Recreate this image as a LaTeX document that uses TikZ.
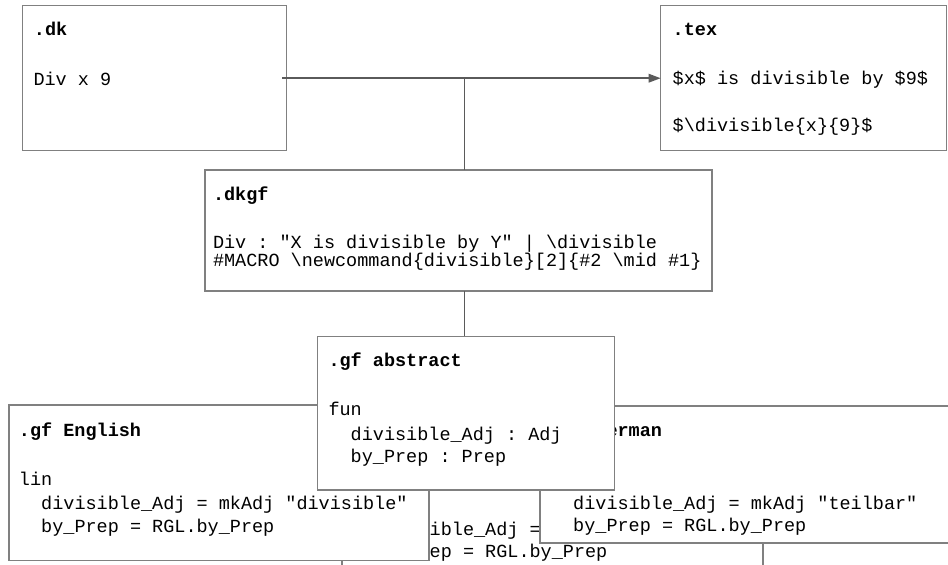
\documentclass[tikz,border=0pt]{standalone}
\usepackage{fontspec}
\setmonofont{Liberation Mono}
\usetikzlibrary{arrows.meta}
\definecolor{boxgray}{HTML}{808080}
\definecolor{linegray}{HTML}{5A5A5A}
\newcommand{\ind}{\hphantom{xx}}
\tikzset{
  box/.style={draw=boxgray, line width=1.2pt, fill=white, inner sep=0pt, outer sep=0pt, anchor=north west},
  txt/.style={anchor=base west, inner sep=0pt, outer sep=0pt, text=black, font=\fontsize{18.5}{24}\selectfont\ttfamily},
  ttl/.style={txt, font=\fontsize{18.5}{24}\selectfont\ttfamily\bfseries},
  conn/.style={draw=linegray, line width=1.6pt}
}
\begin{document}
\begin{tikzpicture}[x=1pt,y=-1pt]
\useasboundingbox (0,0) rectangle (948,565);
\clip (0,0) rectangle (948,565);
\fill[white] (0,0) rectangle (948,565);

% top boxes
\node[box, minimum width=264pt, minimum height=145pt] (dk) at (22.7,5.7) {};
\node[ttl] (dkT) at (34,35.5) {.dk};
\node[txt] (dkA) at (33.5,85) {Div x 9};

\node[box, minimum width=286pt, minimum height=145pt] (tex) at (660.7,5.7) {};
\node[ttl] (texT) at (672.7,35.7) {.tex};
\node[txt] (texA) at (672.7,84) {\$x\$ is divisible by \$9\$};
\node[txt] (texB) at (672.7,131.7) {\$\textbackslash divisible\{x\}\{9\}\$};

\node[box, minimum width=507pt, minimum height=121pt] (dkgf) at (205,170) {};
\node[ttl] (dkgfT) at (213,200) {.dkgf};
\node[txt] (dkgfA) at (213,248.3) {Div : "X is divisible by Y" | \textbackslash divisible};
\node[txt] (dkgfB) at (213,266.5) {\#MACRO \textbackslash newcommand\{divisible\}[2]\{\#2 \textbackslash mid \#1\}};

% connectors
\coordinate (j) at (464.5,78);
\draw[conn, -{Triangle[length=12pt,width=8.5pt]}] ([xshift=-4.7pt]dk.east) -- (tex.west);
\draw[conn] (j) -- (j |- dkgf.north);
\draw[conn] (dkgf.south -| j) -- (j |- 0,336.7) coordinate (jb);

% hidden middle box
\node[box, minimum width=421pt, minimum height=200pt] (mid) at (342,431) {};
\node[txt] (midA) at (352,535) {\ind divisible\_Adj =};
\node[txt] (midB) at (352,557.3) {\ind by\_Prep = RGL.by\_Prep};

% English
\node[box, minimum width=420pt, minimum height=155.5pt] (en) at (9,405) {};
\node[ttl] (enT) at (19,436.7) {.gf English};
\node[txt] (enA) at (19,485) {lin};
\node[txt] (enB) at (19,509.3) {\ind divisible\_Adj = mkAdj "divisible"};
\node[txt] (enC) at (19,532) {\ind by\_Prep = RGL.by\_Prep};

% German (title partly hidden behind the abstract box)
\node[box, minimum width=420pt, minimum height=137pt] (de) at (540,406) {};
\node[ttl] (deT) at (606.5,436.7) {erman};
\node[txt] (deB) at (551,509.3) {\ind divisible\_Adj = mkAdj "teilbar"};
\node[txt] (deC) at (551,531.7) {\ind by\_Prep = RGL.by\_Prep};

% abstract
\node[box, minimum width=297pt, minimum height=153.3pt] (abs) at (317.3,336.7) {};
\node[ttl] (absT) at (328.5,366) {.gf abstract};
\node[txt] (absA) at (328.5,415) {fun};
\node[txt] (absB) at (328.5,440) {\ind divisible\_Adj : Adj};
\node[txt] (absC) at (328.5,462.7) {\ind by\_Prep : Prep};
\end{tikzpicture}
\end{document}
